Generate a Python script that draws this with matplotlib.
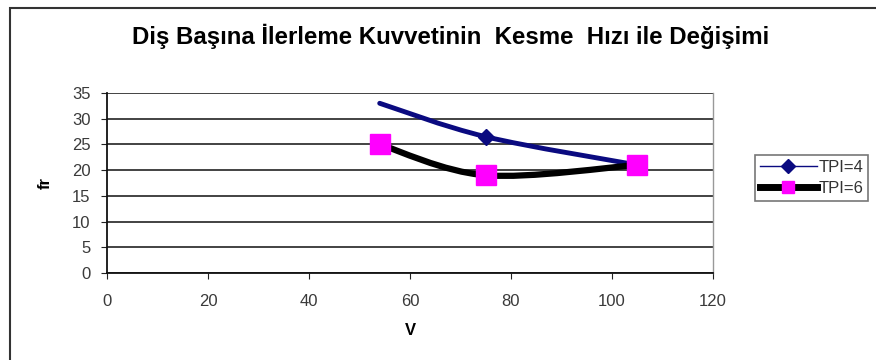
import matplotlib.pyplot as plt
from matplotlib.path import Path
from matplotlib.patches import PathPatch, Rectangle
from matplotlib.lines import Line2D

plt.rcParams['font.family'] = ['Liberation Sans', 'DejaVu Sans']

# Data
v = [54, 75, 105]
tpi4 = [33, 26.5, 21]
tpi6 = [25, 19, 21]
series_labels = ['TPI=4', 'TPI=6']
x_ticks = [0, 20, 40, 60, 80, 100, 120]
y_ticks = [0, 5, 10, 15, 20, 25, 30, 35]


def smooth_path(xs, ys, tension=1/6):
    """Bezier path through the points, like a spreadsheet's smoothed line."""
    pts = list(zip(xs, ys))
    verts = [pts[0]]
    codes = [Path.MOVETO]
    n = len(pts)
    for i in range(n - 1):
        p0 = pts[i - 1] if i > 0 else pts[i]
        p1 = pts[i]
        p2 = pts[i + 1]
        p3 = pts[i + 2] if i + 2 < n else pts[i + 1]
        c1 = (p1[0] + (p2[0] - p0[0]) * tension, p1[1] + (p2[1] - p0[1]) * tension)
        c2 = (p2[0] - (p3[0] - p1[0]) * tension, p2[1] - (p3[1] - p1[1]) * tension)
        verts += [c1, c2, p2]
        codes += [Path.CURVE4] * 3
    return Path(verts, codes)


fig = plt.figure(figsize=(8.76, 3.6), dpi=100)
ax = fig.add_axes([107 / 876, 1 - 273 / 360, (713 - 107) / 876, (273 - 93) / 360])

# chart frame (only top and left edges fall inside the image)
fig.patches.append(Rectangle((10 / 876, -0.1), 1.2, 1 - 8 / 360 + 0.1,
                             transform=fig.transFigure, fill=False,
                             edgecolor='#333333', lw=1.5))

ax.set_xlim(0, 120)
ax.set_ylim(0, 35)
ax.set_xticks(x_ticks)
ax.set_yticks(y_ticks)
ax.tick_params(labelsize=12, colors='#222222', length=4, direction='out')
ax.tick_params(axis='x', pad=11)
ax.tick_params(axis='y', pad=8)
for t in ax.get_xticklabels() + ax.get_yticklabels():
    t.set_color('#3a3a3a')

ax.grid(axis='y', color='#222222', lw=1.2)
ax.set_axisbelow(True)
ax.spines['top'].set_visible(False)
ax.spines['right'].set_color('#999999')
ax.spines['right'].set_linewidth(1)
for side in ['left', 'bottom']:
    ax.spines[side].set_color('#111111')
    ax.spines[side].set_linewidth(1.3)

# TPI=4: navy smoothed line with diamonds
ax.add_patch(PathPatch(smooth_path(v, tpi4), fill=False, edgecolor='#0a0a80',
                       lw=3.5, capstyle='round', zorder=3))
ax.plot(v, tpi4, ls='none', marker='D', ms=8, color='#0a0a80',
        markevery=[1, 2], zorder=4)

# TPI=6: thick black smoothed line with magenta squares
ax.add_patch(PathPatch(smooth_path(v, tpi6), fill=False, edgecolor='black',
                       lw=4.5, capstyle='round', zorder=5))
ax.plot(v, tpi6, ls='none', marker='s', ms=15, color='#ff00ff', zorder=6)

ax.set_xlabel('V', fontsize=12, fontweight='bold', labelpad=10)
ax.set_ylabel('fr', fontsize=12, fontweight='bold', labelpad=14, rotation=90)

fig.text(451 / 876, 1 - 36 / 360,
         'Diş Başına İlerleme Kuvvetinin  Kesme  Hızı ile Değişimi',
         ha='center', va='center', fontsize=17.3, fontweight='bold')

handles = [
    Line2D([], [], color='#0a0a80', lw=1, marker='D', ms=7),
    Line2D([], [], color='black', lw=5, marker='s', ms=9,
           markerfacecolor='#ff00ff', markeredgecolor='#ff00ff'),
]
leg = fig.legend(handles, series_labels, loc='upper left',
                 bbox_to_anchor=(755 / 876, 1 - 155 / 360),
                 frameon=True, fancybox=False, fontsize=12,
                 handlelength=3.4, handletextpad=0.1, borderpad=0.3,
                 labelspacing=0.35, borderaxespad=0)
leg.get_frame().set_edgecolor('#555555')
leg.get_frame().set_linewidth(1.2)
for t in leg.get_texts():
    t.set_color('#333333')

fig.savefig('out.png', dpi=100)
